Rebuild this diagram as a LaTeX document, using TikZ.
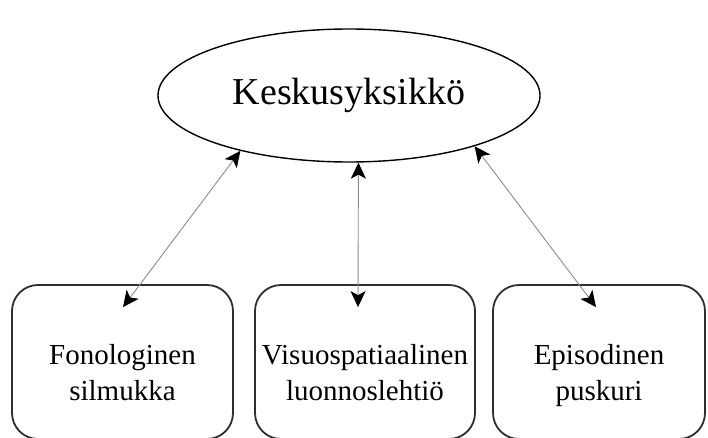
\documentclass[tikz,border=0pt]{standalone}
\usepackage{fontspec}
\setmainfont{Liberation Serif}
\usetikzlibrary{arrows.meta,calc,shapes.geometric}
\definecolor{linkgray}{HTML}{8C8C8C}
\definecolor{framegray}{HTML}{2E2E2E}
\tikzset{headtip/.tip={Stealth[black,length=16pt,width=15pt,inset=4pt]}}

\begin{document}
\begin{tikzpicture}[x=1pt,y=1pt,
    unit/.style={draw=framegray, line width=1.8pt, rounded corners=26pt,
      minimum height=154pt, inner sep=0pt, align=center,
      font=\fontsize{29}{36}\selectfont, text height=86pt, text depth=10pt},
    link/.style={draw=linkgray, line width=0.9pt, headtip-headtip}]
    \clip (0,0) rectangle (708,437);
    % central unit
    \node[ellipse, draw, line width=1.4pt, minimum width=382pt, minimum height=133pt,
      inner sep=0pt, font=\fontsize{38}{44}\selectfont] (centre) at (349,341.5) {Keskusyksikkö};
    % subsystems
    \foreach \n/\x/\w/\txt in {fono/122.5/221/{Fonologinen\\silmukka},
        visuo/365/220/{Visuospatiaalinen\\luonnoslehtiö},
        episod/599/212/{Episodinen\\puskuri}} {
        \node[unit, minimum width=\w pt] (\n) at (\x,75) {\txt};
    }
    % two-way links
    \foreach \ang/\n/\dx in {207/fono/0.5, 278/visuo/-7, 338/episod/-3}
        \draw[link] (centre.\ang) -- ($(\n.north)+(\dx,-23)$);
\end{tikzpicture}
\end{document}
